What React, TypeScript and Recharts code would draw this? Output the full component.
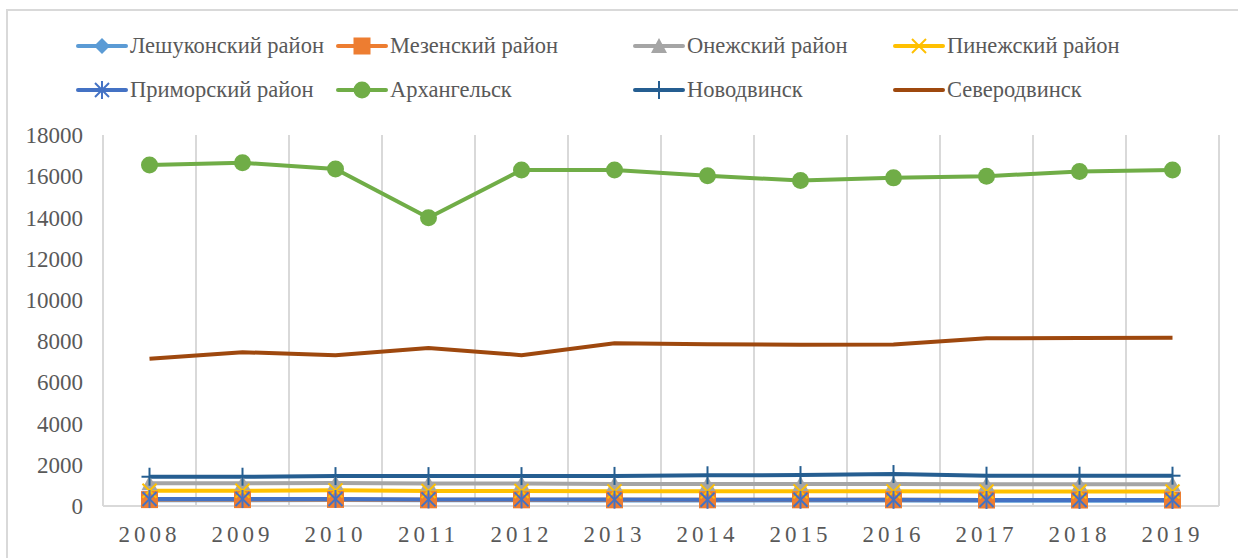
import { CartesianGrid, Line, LineChart, XAxis, YAxis } from "recharts";

const years = ["2008", "2009", "2010", "2011", "2012", "2013", "2014", "2015", "2016", "2017", "2018", "2019"];

const leshukonsky = [280, 280, 290, 280, 280, 270, 270, 270, 270, 260, 260, 260];
const mezensky = [310, 310, 320, 300, 300, 300, 300, 300, 300, 290, 290, 290];
const onezhsky = [1100, 1100, 1110, 1090, 1090, 1070, 1070, 1070, 1070, 1060, 1050, 1050];
const pinezhsky = [740, 740, 760, 730, 730, 710, 710, 710, 710, 700, 700, 700];
const primorsky = [340, 340, 340, 320, 320, 310, 300, 300, 300, 290, 290, 290];
const arkhangelsk = [16550, 16650, 16350, 13980, 16300, 16300, 16020, 15790, 15920, 16000, 16230, 16300];
const novodvinsk = [1420, 1420, 1450, 1450, 1450, 1460, 1490, 1500, 1550, 1470, 1470, 1470];
const severodvinsk = [7140, 7460, 7320, 7660, 7320, 7900, 7850, 7820, 7840, 8140, 8150, 8160];

const yTicks = [0, 2000, 4000, 6000, 8000, 10000, 12000, 14000, 16000, 18000];

const data = years.map((year, i) => ({
  year,
  leshukonsky: leshukonsky[i],
  mezensky: mezensky[i],
  onezhsky: onezhsky[i],
  pinezhsky: pinezhsky[i],
  primorsky: primorsky[i],
  arkhangelsk: arkhangelsk[i],
  novodvinsk: novodvinsk[i],
  severodvinsk: severodvinsk[i],
}));

const FONT = "'Liberation Serif', 'Times New Roman', serif";
const TEXT = "#595959";
const GRID = "#d9d9d9";

type Marker = "diamond" | "square" | "triangle" | "x" | "star" | "circle" | "plus" | "none";

const series: { key: string; name: string; color: string; marker: Marker }[] = [
  { key: "leshukonsky", name: "Лешуконский район", color: "#5b9bd5", marker: "diamond" },
  { key: "mezensky", name: "Мезенский район", color: "#ed7d31", marker: "square" },
  { key: "onezhsky", name: "Онежский район", color: "#a5a5a5", marker: "triangle" },
  { key: "pinezhsky", name: "Пинежский район", color: "#ffc000", marker: "x" },
  { key: "primorsky", name: "Приморский район", color: "#4472c4", marker: "star" },
  { key: "arkhangelsk", name: "Архангельск", color: "#70ad47", marker: "circle" },
  { key: "novodvinsk", name: "Новодвинск", color: "#255e91", marker: "plus" },
  { key: "severodvinsk", name: "Северодвинск", color: "#9e480e", marker: "none" },
];

function markerShape(marker: Marker, color: string, cx: number, cy: number, key?: string | number) {
  switch (marker) {
    case "diamond":
      return <path key={key} d={`M${cx},${cy - 8} L${cx + 8},${cy} L${cx},${cy + 8} L${cx - 8},${cy} Z`} fill={color} />;
    case "square":
      return <rect key={key} x={cx - 8.5} y={cy - 8.5} width={17} height={17} fill={color} />;
    case "triangle":
      return <path key={key} d={`M${cx},${cy - 8} L${cx + 8},${cy + 7} L${cx - 8},${cy + 7} Z`} fill={color} />;
    case "x":
      return (
        <g key={key} stroke={color} strokeWidth={2}>
          <line x1={cx - 7} y1={cy - 7} x2={cx + 7} y2={cy + 7} />
          <line x1={cx - 7} y1={cy + 7} x2={cx + 7} y2={cy - 7} />
        </g>
      );
    case "star":
      return (
        <g key={key} stroke={color} strokeWidth={2}>
          <line x1={cx - 7} y1={cy - 7} x2={cx + 7} y2={cy + 7} />
          <line x1={cx - 7} y1={cy + 7} x2={cx + 7} y2={cy - 7} />
          <line x1={cx} y1={cy - 9} x2={cx} y2={cy + 9} />
        </g>
      );
    case "circle":
      return <circle key={key} cx={cx} cy={cy} r={8.5} fill={color} />;
    case "plus":
      return (
        <g key={key} stroke={color} strokeWidth={2}>
          <line x1={cx} y1={cy - 9} x2={cx} y2={cy + 9} />
          <line x1={cx - 8} y1={cy} x2={cx + 8} y2={cy} />
        </g>
      );
    default:
      return <g key={key} />;
  }
}

const legendCols = [76, 336, 633, 893];
const legendRows = [46, 90];

function ChartLegend() {
  return (
    <div style={{ position: "absolute", left: 0, top: 0, width: 1238, height: 110 }}>
      {series.map((s, i) => {
        const left = legendCols[i % 4];
        const top = legendRows[Math.floor(i / 4)];
        return (
          <div key={s.key} style={{ position: "absolute", left, top: top - 13, height: 26, display: "flex", alignItems: "center" }}>
            <svg width={52} height={26} style={{ display: "block" }}>
              <line x1={2} y1={13} x2={50} y2={13} stroke={s.color} strokeWidth={4} strokeLinecap="round" />
              {markerShape(s.marker, s.color, 26, 13)}
            </svg>
            <span style={{ marginLeft: 2, fontFamily: FONT, fontSize: 22.5, color: TEXT, whiteSpace: "nowrap", lineHeight: "26px" }}>
              {s.name}
            </span>
          </div>
        );
      })}
    </div>
  );
}

export default function App() {
  return (
    <div style={{ position: "absolute", left: 0, top: 0, width: 1238, height: 558, background: "#fff", overflow: "hidden" }}>
      <div style={{ position: "absolute", left: 6, top: 9, width: 1240, height: 560, border: `2px solid ${GRID}`, boxSizing: "border-box" }} />
      <div style={{ position: "absolute", left: 0, top: 0 }}>
        <LineChart width={1238} height={558} data={data} margin={{ top: 135, right: 19, bottom: 0, left: 0 }}>
          <CartesianGrid
            horizontal={false}
            stroke={GRID}
            strokeWidth={2}
            verticalCoordinatesGenerator={({ offset }: any) =>
              Array.from({ length: years.length + 1 }, (_, i) => offset.left + (i * offset.width) / years.length)
            }
          />
          <XAxis
            dataKey="year"
            height={52}
            padding={{ left: 46.5, right: 46.5 }}
            tickSize={0}
            tickMargin={20}
            interval={0}
            axisLine={{ stroke: GRID, strokeWidth: 2 }}
            tick={{ fontFamily: FONT, fontSize: 23, fill: TEXT, letterSpacing: 4 }}
          />
          <YAxis
            width={103}
            domain={[0, 18000]}
            ticks={yTicks}
            interval={0}
            tickSize={0}
            tickMargin={20}
            axisLine={false}
            tick={{ fontFamily: FONT, fontSize: 23, fill: TEXT }}
          />
          {series.map((s) => (
            <Line
              key={s.key}
              type="linear"
              dataKey={s.key}
              name={s.name}
              stroke={s.color}
              strokeWidth={4}
              isAnimationActive={false}
              dot={(p: any) => markerShape(s.marker, s.color, p.cx, p.cy, `${s.key}-${p.index}`)}
              activeDot={false}
            />
          ))}
        </LineChart>
      </div>
      <ChartLegend />
    </div>
  );
}
